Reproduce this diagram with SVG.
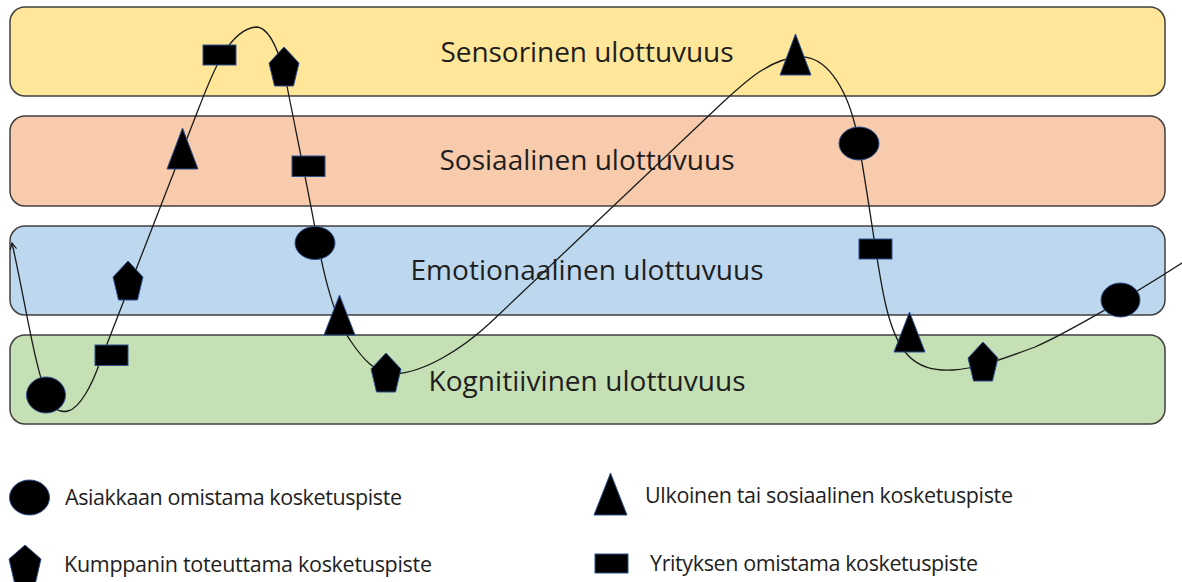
<svg xmlns="http://www.w3.org/2000/svg" width="1182" height="582" viewBox="0 0 1182 582">
  <style>
    .band { stroke: #404040; stroke-width: 1.5; }
    .band-label { font-family: "Open Sans", "Noto Sans", sans-serif; font-size: 28px; fill: #1e1e1e; text-anchor: middle; }
    .legend-label { font-family: "Open Sans", "Noto Sans", sans-serif; font-size: 21.5px; fill: #1e1e1e; }
    .tp { fill: #000; stroke: #2f528f; stroke-width: 1; }
    .journey { fill: none; stroke: #1a1a1a; stroke-width: 1.3; }
  </style>
  <defs>
    <marker id="arrow-open" viewBox="0 0 10 10" refX="9" refY="5" markerWidth="8" markerHeight="8" markerUnits="userSpaceOnUse" orient="auto-start-reverse">
      <path d="M1,1 L9,5 L1,9" fill="none" stroke="#1a1a1a" stroke-width="1.4"/>
    </marker>
    <polygon id="pentagon" points="15,0 30,16 24.5,39 5.5,39 0,16"/>
  </defs>

  <rect width="1182" height="582" fill="#ffffff"/>

  <!-- dimension bands -->
  <g id="band-sensorinen">
    <rect class="band" x="10" y="7" width="1155" height="89" rx="15" fill="#ffe699"/>
    <text class="band-label" x="587" y="62" textLength="293">Sensorinen ulottuvuus</text>
  </g>
  <g id="band-sosiaalinen">
    <rect class="band" x="10" y="116" width="1155" height="90" rx="15" fill="#f8cbad"/>
    <text class="band-label" x="587" y="170" textLength="295">Sosiaalinen ulottuvuus</text>
  </g>
  <g id="band-emotionaalinen">
    <rect class="band" x="10" y="226" width="1155" height="89" rx="15" fill="#bdd7ee"/>
    <text class="band-label" x="587" y="280" textLength="353">Emotionaalinen ulottuvuus</text>
  </g>
  <g id="band-kognitiivinen">
    <rect class="band" x="10" y="335" width="1155" height="89" rx="15" fill="#c5e0b4"/>
    <text class="band-label" x="587" y="391" textLength="317">Kognitiivinen ulottuvuus</text>
  </g>

  <!-- customer journey line -->
  <g id="connectors">
    <path class="journey" marker-start="url(#arrow-open)" d="M12,243 C25,300 35,370 48,398 C53,409 60,413 68,411 C80,408 92,385 100,362 L200,105 C212,75 228,30 256,27 C270,27 281,55 287,86 C293,117 308,190 315,228 C322,266 332,315 350,340 C362,358 375,374 395,374 C425,372 462,349 490,323 L720,105 C745,82 770,58 800,57 C825,56 845,85 855,125 C860,145 868,200 875,245 C882,290 888,330 905,352 C918,368 935,371 953,370 C975,369 1000,360 1035,347 C1060,336 1120,303 1185,261"/>
  </g>

  <!-- touchpoints along the journey -->
  <g id="tp-circle-1"><ellipse class="tp" cx="46" cy="395" rx="19.5" ry="18"/></g>
  <g id="tp-rect-1"><rect class="tp" x="95" y="345" width="33" height="20.5"/></g>
  <g id="tp-pentagon-1"><use class="tp" href="#pentagon" x="113" y="261"/></g>
  <g id="tp-triangle-1"><polygon class="tp" points="182.5,128 198,169 167,169"/></g>
  <g id="tp-rect-2"><rect class="tp" x="203" y="45" width="33" height="20"/></g>
  <g id="tp-pentagon-2"><use class="tp" href="#pentagon" x="269" y="47"/></g>
  <g id="tp-rect-3"><rect class="tp" x="292" y="156" width="33" height="20.5"/></g>
  <g id="tp-circle-2"><ellipse class="tp" cx="315" cy="243" rx="20" ry="16.5"/></g>
  <g id="tp-triangle-2"><polygon class="tp" points="339.5,295 355,335 324,335"/></g>
  <g id="tp-pentagon-3"><use class="tp" href="#pentagon" x="371" y="353"/></g>
  <g id="tp-triangle-3"><polygon class="tp" points="795.5,34 811,75 780,75"/></g>
  <g id="tp-circle-3"><ellipse class="tp" cx="859" cy="143.5" rx="20" ry="16.5"/></g>
  <g id="tp-rect-4"><rect class="tp" x="859" y="239" width="33" height="20"/></g>
  <g id="tp-triangle-4"><polygon class="tp" points="909.5,312 925,352 894,352"/></g>
  <g id="tp-pentagon-4"><use class="tp" href="#pentagon" x="968" y="342"/></g>
  <g id="tp-circle-4"><ellipse class="tp" cx="1120.5" cy="300" rx="19.5" ry="17"/></g>

  <!-- legend -->
  <g id="legend-asiakas">
    <ellipse class="tp" cx="29.5" cy="497.5" rx="20" ry="17.5"/>
    <text class="legend-label" x="65" y="505" textLength="337">Asiakkaan omistama kosketuspiste</text>
  </g>
  <g id="legend-kumppani">
    <polygon class="tp" points="25,545 41,559 35,585 15,585 9,559"/>
    <text class="legend-label" x="64" y="572" textLength="368">Kumppanin toteuttama kosketuspiste</text>
  </g>
  <g id="legend-ulkoinen">
    <polygon class="tp" points="610.5,473 627,515 594,515"/>
    <text class="legend-label" x="645" y="503" textLength="368">Ulkoinen tai sosiaalinen kosketuspiste</text>
  </g>
  <g id="legend-yritys">
    <rect class="tp" x="595" y="554" width="33" height="19"/>
    <text class="legend-label" x="650" y="571" textLength="328">Yrityksen omistama kosketuspiste</text>
  </g>
</svg>
